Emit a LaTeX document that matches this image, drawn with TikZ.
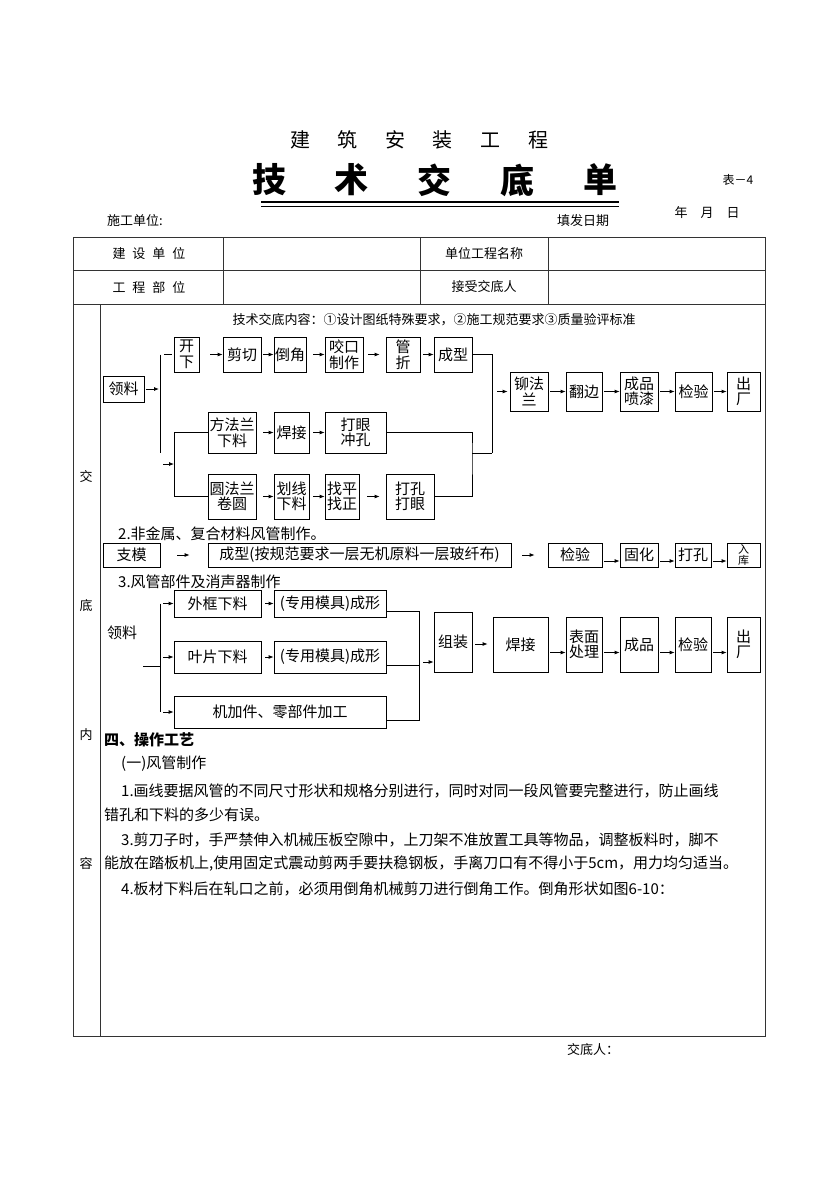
\documentclass[tikz,border=0pt]{standalone}
\usepackage{fontspec}
\setmainfont{Noto Sans CJK SC}
\usetikzlibrary{arrows.meta}

\tikzset{
  box/.style={draw, line width=0.8pt, inner sep=0pt, align=center,
    font=\fontsize{15}{15.5}\selectfont},
  arr/.style={-{Latex[length=5pt,width=4pt]}, line width=0.8pt, shorten <=2pt},
  conn/.style={line width=0.8pt},
  grid/.style={line width=0.9pt, black!80},
  small/.style={font=\fontsize{13}{13}\selectfont, inner sep=0pt},
  body/.style={anchor=west, font=\fontsize{15}{15}\selectfont, inner sep=0pt},
}

\begin{document}
\begin{tikzpicture}[x=1pt,y=-1pt]
    % Define the page
    \useasboundingbox (0,0) rectangle (838,1186);
    \fill[white] (0,0) rectangle (838,1186);

    % Add the title
    \foreach \c [count=\i from 0] in {建,筑,安,装,工,程}
        \node[font=\fontsize{20}{20}\selectfont, inner sep=0pt] (ta\i) at (300+47.6*\i,140) {\c};
    \foreach \c [count=\i from 0] in {技,术,交,底,单}
        \node[font=\fontsize{34}{34}\selectfont\bfseries, inner sep=0pt] (tb\i) at (269+82.75*\i,180) {\c};
    \node[small, font=\fontsize{12}{12}\selectfont] (biao) at (738,180) {表－4};
    \draw[line width=1.3pt] (261,202) -- (619,202);
    \draw[line width=1.3pt] (261,206.5) -- (619,206.5);
    \node[small, anchor=west] (sgdw) at (107,221) {施工单位:};
    \node[small, anchor=west] (tfrq) at (557,221) {填发日期};
    \node[small] (nyr) at (707,213) {年\quad 月\quad 日};

    % Draw the table
    \draw[grid] (73,237) rectangle (765,1036);
    \draw[grid] (73,270) -- (765,270);
    \draw[grid] (73,304) -- (765,304);
    \foreach \x in {223,420,548}
        \draw[grid] (\x,237) -- (\x,304);
    \draw[grid] (100,304) -- (100,1036);

    % Add the head cells
    \node[small] (jsdw) at (149,254) {建\hspace{7pt}设\hspace{7pt}单\hspace{7pt}位};
    \node[small] (gcbw) at (149,287) {工\hspace{7pt}程\hspace{7pt}部\hspace{7pt}位};
    \node[small] (dwgc) at (484,254) {单位工程名称};
    \node[small] (jsjd) at (484,287) {接受交底人};
    \foreach \c/\y in {交/477,底/606,内/735,容/864}
        \node[small] (side\y) at (86,\y) {\c};
    \node[small] (nr) at (434,320) {技术交底内容：①设计图纸特殊要求，②施工规范要求③质量验评标准};

    % Draw the first flow
    \node[box, minimum width=41, minimum height=26] (ll1) at (123.5,389) {领料};
    \node[box, minimum width=25, minimum height=35] (kx) at (186.5,354.5) {开\\下};
    \node[box, minimum width=38, minimum height=35] (jq) at (242,354.5) {剪切};
    \node[box, minimum width=32, minimum height=35] (dj) at (290,354.5) {倒角};
    \node[box, minimum width=38, minimum height=35] (yk) at (344,354.5) {咬口\\制作};
    \node[box, minimum width=34, minimum height=35] (gz) at (403,354.5) {管\\折};
    \node[box, minimum width=38, minimum height=35] (cx1) at (453,354.5) {成型};
    \node[box, minimum width=48, minimum height=41] (ffl) at (232,432.5) {方法兰\\下料};
    \node[box, minimum width=35, minimum height=41] (hj1) at (291.5,432.5) {焊接};
    \node[box, minimum width=61, minimum height=41] (dy) at (355.5,432.5) {打眼\\冲孔};
    \node[box, minimum width=48, minimum height=45] (yfl) at (232,496.5) {圆法兰\\卷圆};
    \node[box, minimum width=35, minimum height=45] (hx) at (291.5,496.5) {划线\\下料};
    \node[box, minimum width=34, minimum height=45] (zp) at (342,496.5) {找平\\找正};
    \node[box, minimum width=48, minimum height=45] (dk) at (410,496.5) {打孔\\打眼};
    \node[box, minimum width=38, minimum height=39] (mf) at (529,391.5) {铆法\\兰};
    \node[box, minimum width=36, minimum height=39] (fb) at (584,391.5) {翻边};
    \node[box, minimum width=38, minimum height=39] (cp) at (639,391.5) {成品\\喷漆};
    \node[box, minimum width=37, minimum height=39] (jy1) at (693.5,391.5) {检验};
    \node[box, minimum width=33, minimum height=39] (cc1) at (743.5,391.5) {出\\厂};

    \coordinate (b1t) at (160,354.5);
    \coordinate (b1b) at (160,453);
    \coordinate (a2) at (163,464);
    \coordinate (b2t) at (174,432.5);
    \coordinate (b2b) at (174,496.5);
    \coordinate (j2) at (472,453);
    \coordinate (j3) at (492,453);

    \draw[conn] (b1t) -- (b1b);
    \draw[arr, shorten >=1pt] (ll1.east) -- (ll1.east -| b1t);
    \draw[conn, shorten <=4pt, shorten >=2pt] (b1t) -- (kx.west);
    \draw[arr, shorten <=0pt] (a2) -- (a2 -| b2t);
    \draw[conn] (ffl.west) -- (b2t) -- (b2b) -- (yfl.west);
    \draw[arr, shorten <=11pt] (kx.east) -- (jq.west);
    \draw[arr] (jq.east) -- (dj.west);
    \draw[arr, shorten <=7pt] (dj.east) -- (yk.west);
    \draw[arr, shorten <=5pt, shorten >=6pt] (yk.east) -- (gz.west);
    \draw[arr, shorten <=3pt] (gz.east) -- (cx1.west);
    \draw[arr, shorten <=7pt] (ffl.east) -- (hj1.west);
    \draw[arr, shorten <=4pt] (hj1.east) -- (dy.west);
    \draw[arr, shorten <=7pt] (yfl.east) -- (hx.west);
    \draw[arr, shorten <=4pt] (hx.east) -- (zp.west);
    \draw[arr, shorten <=8pt, shorten >=6pt] (zp.east) -- (dk.west);
    \draw[conn] (dy.east) -| (j2) |- (dk.east);
    \draw[conn] (j2) -- (j3);
    \draw[conn] (cx1.east) -| (j3);
    \draw[arr, shorten <=5pt, shorten >=2pt] (mf.west -| j3) -- (mf.west);
    \draw[arr] (mf.east) -- (fb.west);
    \draw[arr] (fb.east) -- (cp.west);
    \draw[arr] (cp.east) -- (jy1.west);
    \draw[arr] (jy1.east) -- (cc1.west);

    % Draw the second flow
    \node[body] (s2) at (118,534) {2.非金属、复合材料风管制作。};
    \node[box, minimum width=57, minimum height=24] (zm) at (131.5,555) {支模};
    \node[box, minimum width=303, minimum height=24] (cx2) at (359.5,555) {成型(按规范要求一层无机原料一层玻纤布)};
    \node[box, minimum width=54, minimum height=24] (jy2) at (575,555) {检验};
    \node[box, minimum width=38, minimum height=24] (gh) at (639,555) {固化};
    \node[box, minimum width=36, minimum height=24] (dk2) at (693,555) {打孔};
    \node[box, minimum width=33, minimum height=24, font=\fontsize{11}{11}\selectfont] (rk) at (743.5,555) {入\\库};
    \draw[arr, shorten <=17pt, shorten >=18pt] (zm.east) -- (cx2.west);
    \draw[arr, shorten <=11pt, shorten >=13pt] (cx2.east) -- (jy2.west);
    \draw[arr] ([yshift=-6pt]jy2.east) -- ([yshift=-6pt]gh.west);
    \draw[arr] ([yshift=-6pt]gh.east) -- ([yshift=-6pt]dk2.west);
    \draw[arr] ([yshift=-6pt]dk2.east) -- ([yshift=-6pt]rk.west);

    % Draw the third flow
    \node[body] (s3) at (118,582) {3.风管部件及消声器制作};
    \node[body] (ll2) at (107,633) {领料};
    \node[box, minimum width=87, minimum height=27] (wk) at (217.5,603.5) {外框下料};
    \node[box, minimum width=112, minimum height=27] (cxa) at (330,603.5) {(专用模具)成形};
    \node[box, minimum width=87, minimum height=32] (yp) at (217.5,657) {叶片下料};
    \node[box, minimum width=112, minimum height=32] (cxb) at (330,657) {(专用模具)成形};
    \node[box, minimum width=212, minimum height=32] (jj) at (280,712) {机加件、零部件加工};
    \node[box, minimum width=38, minimum height=60] (zz) at (453,642) {组装};
    \node[box, minimum width=55, minimum height=55] (hj2) at (520.5,644.5) {焊接};
    \node[box, minimum width=36, minimum height=55] (bm) at (584,644.5) {表面\\处理};
    \node[box, minimum width=38, minimum height=55] (cp2) at (639,644.5) {成品};
    \node[box, minimum width=36, minimum height=55] (jy3) at (693,644.5) {检验};
    \node[box, minimum width=33, minimum height=55] (cc2) at (743.5,644.5) {出\\厂};

    \coordinate (b3t) at (160,603.5);
    \coordinate (b3b) at (160,712);
    \coordinate (l3) at (143,666);
    \coordinate (j4t) at (419,611);
    \coordinate (j4b) at (419,720);

    \draw[conn] (b3t) -- (b3b);
    \draw[conn] (l3) -- (l3 -| b3t);
    \draw[arr, shorten <=3pt] (b3t) -- (wk.west);
    \draw[arr, shorten <=3pt] (yp.west -| b3t) -- (yp.west);
    \draw[arr, shorten <=3pt] (b3b) -- (jj.west);
    \draw[arr, shorten <=4pt] (wk.east) -- (cxa.west);
    \draw[arr, shorten <=4pt] (yp.east) -- (cxb.west);
    \draw[conn] ([yshift=-7.5pt]cxa.east) -- (j4t) -- (j4b) -- ([yshift=-8pt]jj.east);
    \draw[conn] ([yshift=-8pt]cxb.east) -- ([yshift=-8pt]cxb.east -| j4t);
    \draw[arr, shorten <=4pt] ([yshift=-20pt]zz.west -| j4t) -- ([yshift=-20pt]zz.west);
    \draw[arr, shorten <=3pt, shorten >=5pt] ([yshift=-2pt]zz.east) -- ([yshift=-2pt]zz.east -| hj2.west);
    \draw[arr] ([yshift=-8pt]hj2.east) -- ([yshift=-8pt]bm.west);
    \draw[arr] ([yshift=-8pt]bm.east) -- ([yshift=-8pt]cp2.west);
    \draw[arr] ([yshift=-8pt]cp2.east) -- ([yshift=-8pt]jy3.west);
    \draw[arr] ([yshift=-8pt]jy3.east) -- ([yshift=-8pt]cc2.west);

    % Add the process text
    \node[body, font=\fontsize{15}{15}\selectfont\bfseries] (s4) at (104,740) {四、操作工艺};
    \node[body] (t0) at (121,764) {(一)风管制作};
    \node[body] (t1) at (121,791) {1.画线要据风管的不同尺寸形状和规格分别进行，同时对同一段风管要完整进行，防止画线};
    \node[body] (t2) at (104,815) {错孔和下料的多少有误。};
    \node[body] (t3) at (121,840) {3.剪刀子时，手严禁伸入机械压板空隙中，上刀架不准放置工具等物品，调整板料时，脚不};
    \node[body] (t4) at (104,864) {能放在踏板机上,使用固定式震动剪两手要扶稳钢板，手离刀口有不得小于5cm，用力均匀适当。};
    \node[body] (t5) at (121,889) {4.板材下料后在轧口之前，必须用倒角机械剪刀进行倒角工作。倒角形状如图6-10：};

    % Add the signature
    \node[small, anchor=west] (jdr) at (567,1050) {交底人：};
\end{tikzpicture}
\end{document}
